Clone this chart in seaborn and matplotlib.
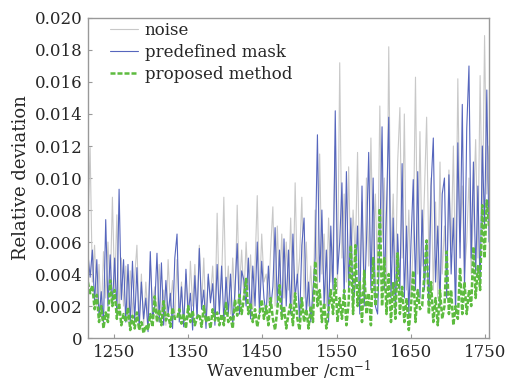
import numpy as np
import pandas as pd
import matplotlib
matplotlib.use("Agg")
import matplotlib.pyplot as plt
import seaborn as sns

# Wavenumber grid (cm^-1)
wavenumber = np.arange(1215, 1756, 3)

# Relative deviation, in units of 1e-3
noise = [
    7.0, 11.9, 3.5, 5.8, 2.0, 4.6, 1.2, 5.4, 2.5, 6.0,
    2.8, 8.8, 3.0, 7.7, 1.5, 5.0, 2.0, 4.5, 1.0, 4.2,
    1.5, 3.8, 5.8, 1.0, 4.0, 0.8, 3.5, 1.2, 4.8, 2.0,
    3.2, 1.0, 4.6, 1.5, 3.0, 0.8, 4.9, 2.0, 3.6, 1.2,
    4.9, 1.5, 3.5, 0.8, 4.0, 1.2, 4.8, 2.0, 4.6, 1.5,
    5.8, 2.0, 5.0, 1.0, 3.8, 2.5, 4.5, 1.2, 7.8, 2.0,
    3.5, 8.8, 2.2, 4.5, 1.5, 5.0, 2.0, 8.3, 3.0, 5.5,
    2.5, 6.0, 3.0, 5.2, 1.8, 4.5, 8.9, 2.5, 6.5, 3.5,
    4.0, 2.2, 5.5, 8.2, 2.0, 7.0, 3.0, 6.5, 2.5, 6.0,
    3.0, 7.5, 2.0, 9.7, 3.5, 5.0, 8.8, 2.5, 6.0, 2.0,
    4.5, 1.5, 8.0, 3.0, 11.5, 4.0, 6.5, 2.0, 7.5, 3.5,
    6.0, 12.0, 3.0, 17.2, 5.0, 9.0, 3.5, 10.7, 4.0, 8.0,
    5.0, 11.6, 3.0, 8.5, 2.5, 10.0, 4.5, 12.5, 5.0, 9.0,
    4.0, 14.5, 6.0, 10.0, 3.0, 18.2, 5.0, 9.0, 3.0, 11.0,
    14.4, 5.0, 14.0, 3.0, 8.0, 2.5, 6.0, 16.3, 4.0, 12.9,
    4.5, 9.0, 13.8, 5.0, 10.0, 3.0, 8.5, 2.5, 11.0, 4.0,
    7.0, 3.0, 10.5, 5.5, 12.0, 3.5, 16.2, 6.0, 9.5, 4.0,
    6.0, 10.0, 4.0, 8.0, 12.4, 5.0, 16.4, 7.0, 18.9, 9.0, 12.0,
]
predefined_mask = [
    5.3, 3.8, 5.5, 2.2, 4.9, 1.3, 2.9, 0.9, 7.4, 2.0,
    5.2, 2.0, 5.0, 1.5, 9.3, 2.4, 4.9, 1.0, 4.6, 0.8,
    4.8, 1.0, 4.4, 0.6, 3.5, 1.2, 2.5, 0.4, 5.4, 1.2,
    2.0, 5.3, 1.0, 4.7, 0.8, 3.6, 1.5, 2.8, 0.6, 5.0,
    6.5, 1.0, 3.2, 0.7, 4.3, 1.5, 2.8, 0.5, 3.9, 1.2,
    5.6, 1.8, 3.0, 0.6, 4.0, 2.2, 3.4, 0.8, 4.6, 1.5,
    4.5, 1.0, 3.8, 1.5, 4.0, 0.8, 3.0, 5.9, 1.5, 4.2,
    3.6, 2.0, 5.0, 1.2, 4.5, 2.0, 6.0, 1.5, 4.8, 2.5,
    1.5, 4.5, 1.8, 3.2, 6.9, 2.0, 5.5, 1.5, 6.2, 2.0,
    5.5, 1.5, 6.5, 2.5, 4.0, 1.0, 5.8, 7.5, 1.5, 3.5,
    1.0, 3.0, 5.0, 12.7, 3.5, 8.0, 2.0, 5.5, 1.0, 7.0,
    3.0, 14.2, 4.0, 6.0, 9.7, 2.5, 10.4, 3.0, 7.5, 2.0,
    3.5, 7.0, 1.5, 9.5, 2.0, 6.0, 11.6, 3.0, 10.0, 2.0,
    1.5, 6.0, 13.2, 3.0, 8.0, 13.8, 2.5, 7.5, 1.5, 6.5,
    3.0, 10.9, 2.5, 7.0, 1.5, 6.0, 9.9, 3.0, 10.4, 2.5,
    8.0, 3.0, 6.0, 2.0, 9.5, 12.5, 3.5, 7.0, 2.0, 9.0,
    10.0, 2.5, 10.2, 4.0, 7.5, 1.5, 12.2, 5.0, 14.6, 3.0,
    13.1, 17.0, 5.0, 11.0, 4.0, 9.5, 3.0, 12.0, 7.0, 15.5, 6.0,
]
proposed_method = [
    3.5, 2.8, 3.3, 1.8, 2.7, 1.0, 2.0, 0.6, 1.6, 1.0,
    3.6, 2.0, 3.0, 1.2, 2.2, 0.8, 1.5, 1.0, 1.9, 0.5,
    1.4, 0.6, 1.6, 0.5, 1.0, 0.3, 0.8, 0.5, 1.5, 0.7,
    2.6, 1.0, 1.8, 0.8, 2.3, 1.1, 1.5, 0.7, 1.9, 1.2,
    1.2, 1.8, 0.9, 1.5, 0.6, 2.0, 1.0, 1.7, 0.8, 1.3,
    1.5, 0.7, 2.0, 1.0, 1.4, 0.6, 1.8, 1.1, 1.6, 0.8,
    1.5, 0.8, 2.2, 1.0, 1.3, 0.6, 2.4, 1.4, 2.7, 1.5,
    2.5, 3.7, 1.5, 2.2, 1.0, 1.8, 0.7, 1.5, 2.4, 1.2,
    2.0, 0.8, 2.5, 1.2, 0.5, 1.8, 3.3, 1.2, 2.0, 0.6,
    1.5, 2.2, 0.8, 2.8, 1.2, 0.5, 2.5, 1.0, 1.8, 0.6,
    2.0, 1.0, 4.8, 2.0, 3.0, 1.0, 2.2, 0.6, 1.8, 3.0,
    1.5, 3.7, 1.0, 2.5, 1.2, 3.0, 0.8, 2.2, 5.8, 1.5,
    5.8, 2.0, 3.5, 1.0, 4.2, 1.5, 2.8, 0.8, 5.0, 2.0,
    3.0, 8.1, 2.0, 5.0, 1.5, 4.0, 1.0, 3.5, 1.2, 5.3,
    1.5, 3.2, 1.0, 2.5, 0.5, 2.0, 4.2, 1.0, 3.0, 1.8,
    2.0, 4.0, 6.1, 1.5, 3.5, 1.0, 2.5, 0.8, 3.0, 1.2,
    2.0, 5.4, 1.5, 3.0, 0.8, 2.0, 1.2, 4.4, 1.5, 3.5,
    1.5, 3.0, 2.0, 5.7, 2.5, 4.5, 3.0, 8.3, 5.0, 8.6, 7.0,
]

df = pd.DataFrame({
    "wavenumber": wavenumber,
    "noise": np.array(noise) * 1e-3,
    "predefined mask": np.array(predefined_mask) * 1e-3,
    "proposed method": np.array(proposed_method) * 1e-3,
})

sns.set_style("ticks")
plt.rcParams["font.family"] = ["DejaVu Serif"]
plt.rcParams["mathtext.fontset"] = "dejavuserif"

fig = plt.figure(figsize=(5.11, 3.82), dpi=100)
ax = fig.add_axes([0.172, 0.115, 0.785, 0.838])

sns.lineplot(data=df, x="wavenumber", y="noise", ax=ax, color="#c8c8c8",
             linewidth=0.8, label="noise")
sns.lineplot(data=df, x="wavenumber", y="predefined mask", ax=ax, color="#5666bd",
             linewidth=0.8, label="predefined mask")
sns.lineplot(data=df, x="wavenumber", y="proposed method", ax=ax, color="#5dbb3f",
             linewidth=1.8, linestyle=(0, (2.0, 0.8)), label="proposed method")

ax.set_xlim(1215, 1755)
ax.set_ylim(0, 0.020)
ax.set_xticks([1250, 1350, 1450, 1550, 1650, 1750])
yticks = np.arange(0, 0.0201, 0.002)
ax.set_yticks(yticks)
ax.set_yticklabels(["0"] + [f"{v:.3f}" for v in yticks[1:]])
ax.tick_params(direction="in", length=3, width=0.8, color="#999999",
               labelsize=12, pad=4)
for s in ax.spines.values():
    s.set_color("#999999")
    s.set_linewidth(1.0)

ax.set_xlabel("Wavenumber /cm$^{-1}$", fontsize=12, labelpad=-1)
ax.set_ylabel("Relative deviation", fontsize=13, labelpad=3)

leg = ax.legend(loc="upper left", frameon=False, fontsize=12, handlelength=1.7,
                borderaxespad=0.0, labelspacing=0.3, handletextpad=0.4,
                bbox_to_anchor=(0.038, 1.008))

fig.savefig("out.png", dpi=100)
